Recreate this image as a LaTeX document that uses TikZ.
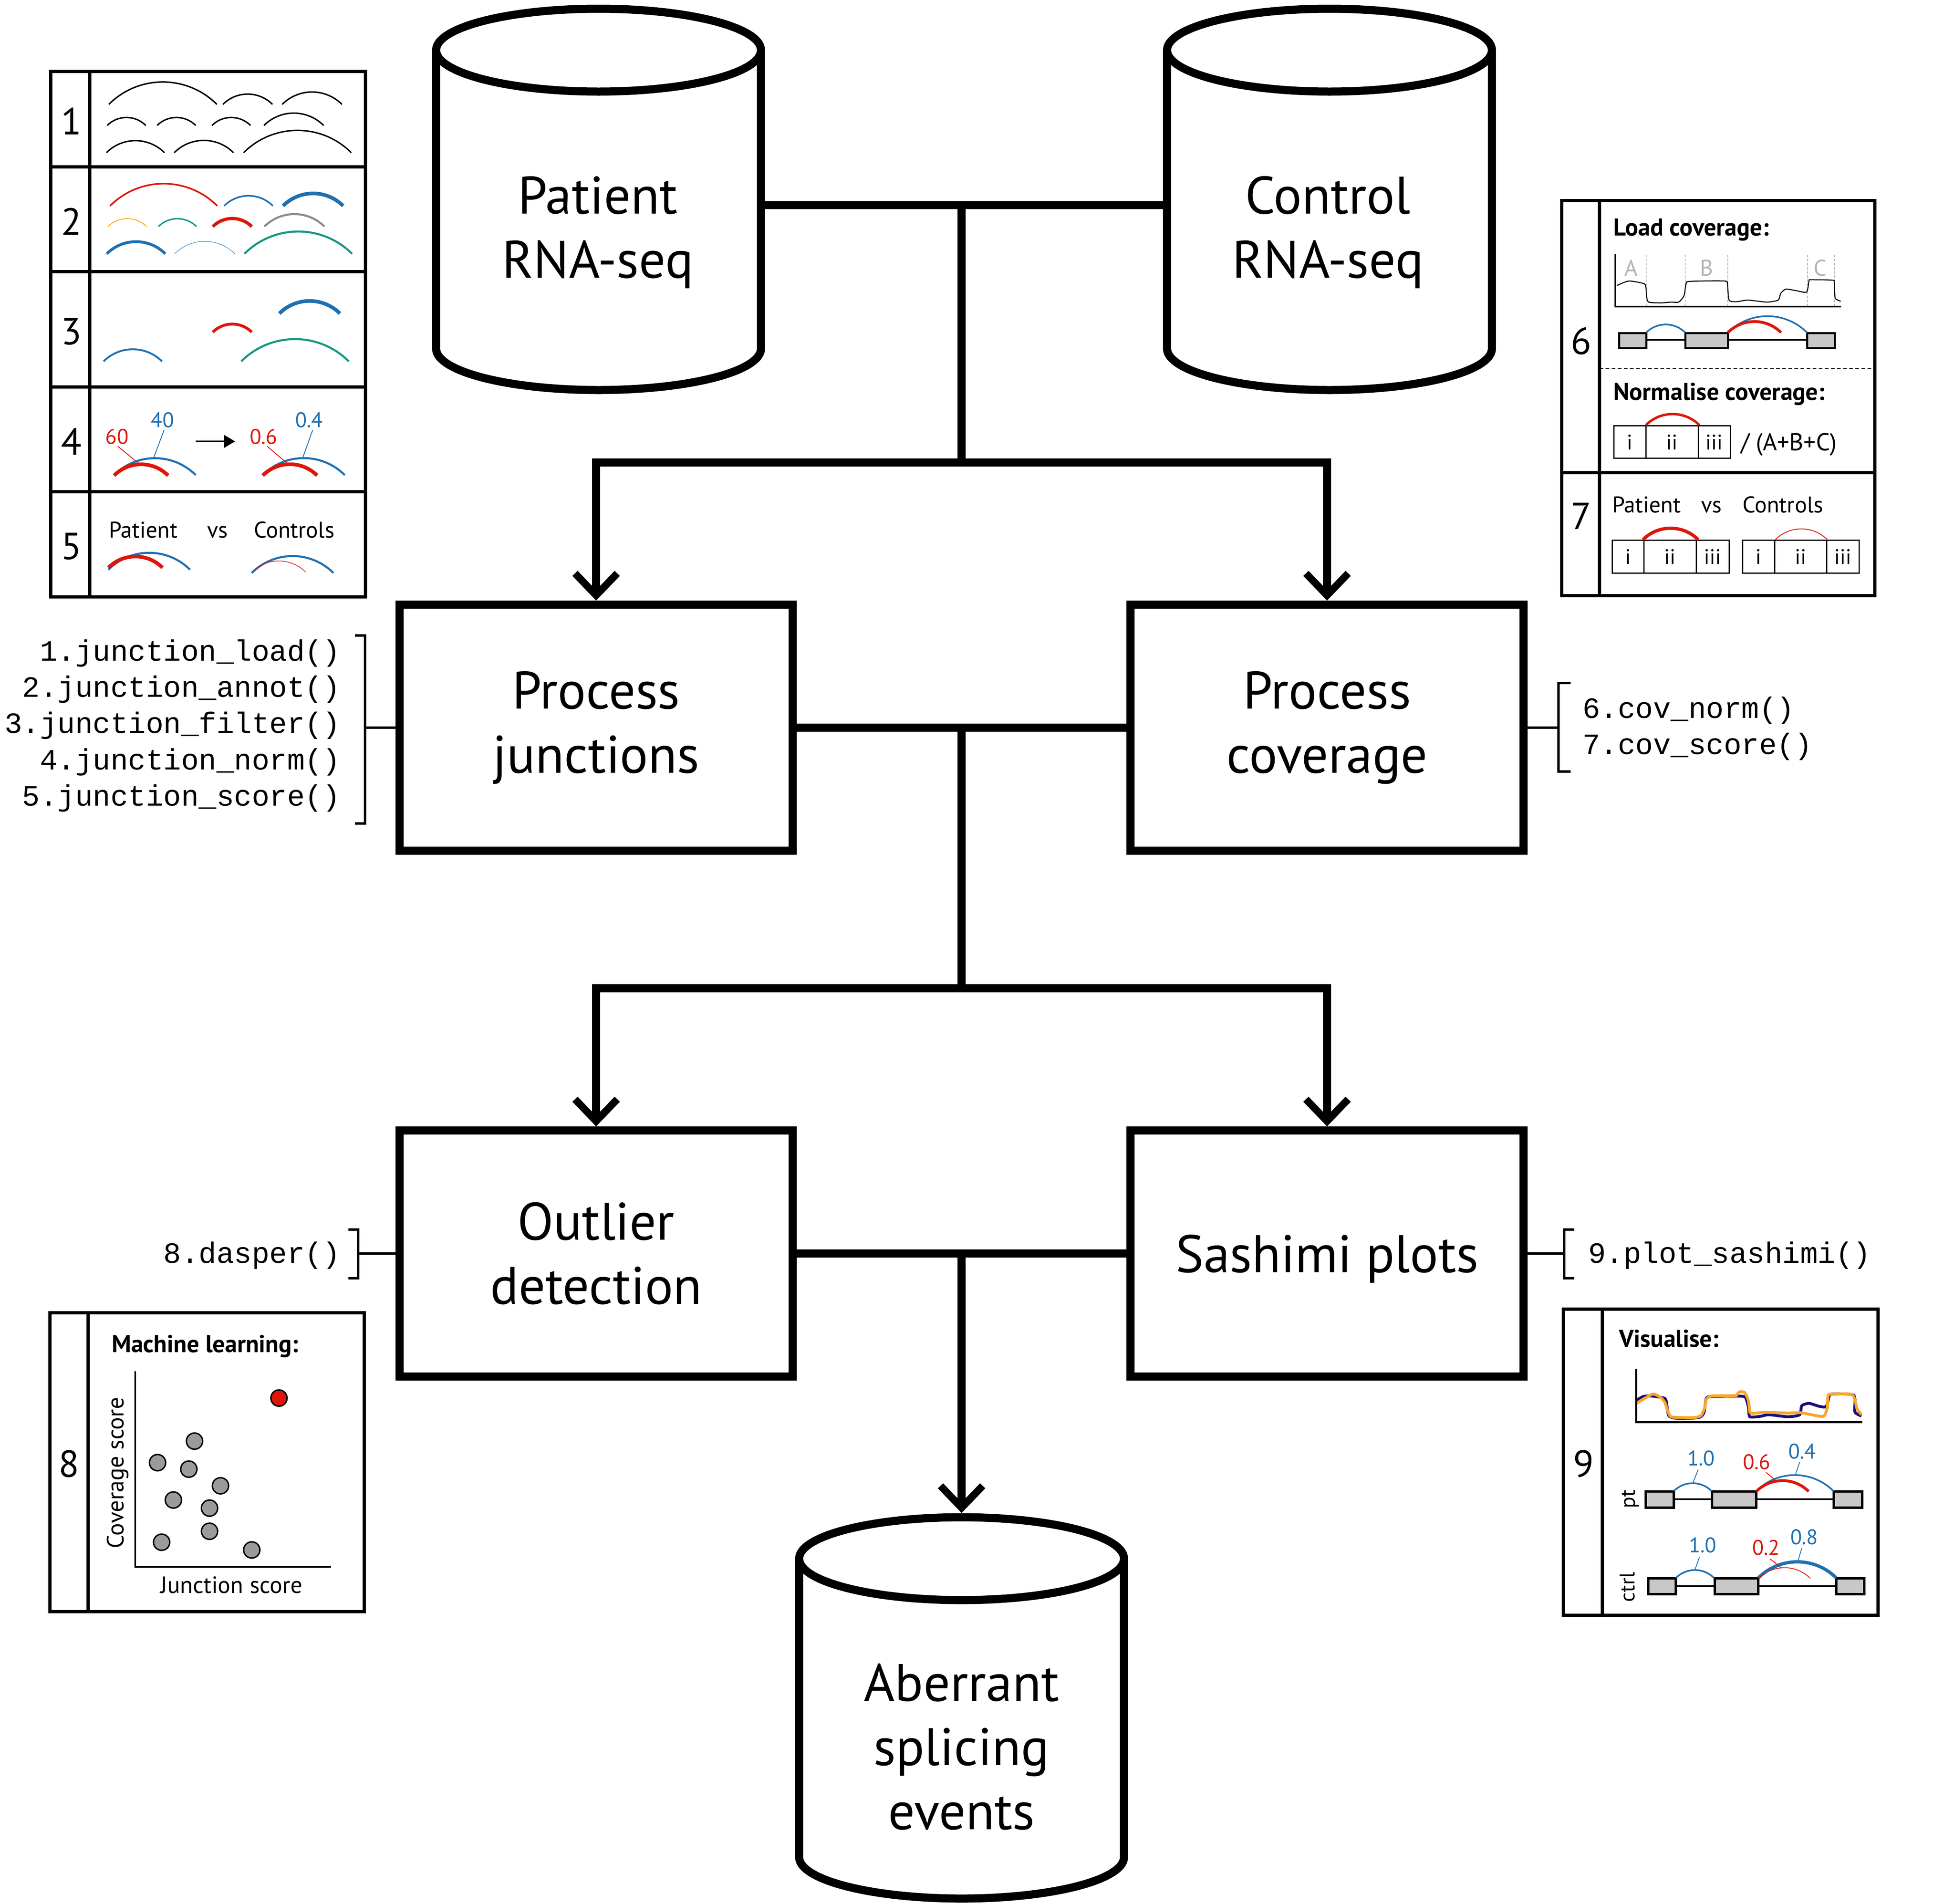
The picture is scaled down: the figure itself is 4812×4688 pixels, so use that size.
\documentclass[tikz,border=0pt]{standalone}
\usepackage{fontspec}
\setmainfont{PT Sans}
\setmonofont{Liberation Mono}
\usetikzlibrary{arrows.meta}
\definecolor{jred}{RGB}{222,22,10}
\definecolor{jblue}{RGB}{30,112,178}
\definecolor{jteal}{RGB}{22,152,130}
\definecolor{jorange}{RGB}{245,168,30}
\definecolor{jgrey}{RGB}{140,140,140}
\definecolor{exgrey}{RGB}{200,200,200}
\definecolor{dotgrey}{RGB}{155,155,155}
\definecolor{ltgrey}{RGB}{180,180,180}
\definecolor{navy}{RGB}{28,12,128}
\definecolor{covorange}{RGB}{248,166,40}
\newcommand\fbig{\fontsize{130}{158}\selectfont}
\newcommand\fnum{\fontsize{93}{100}\selectfont}
\newcommand\fmid{\fontsize{56}{60}\selectfont}
\newcommand\fbold{\fontsize{60}{64}\selectfont\bfseries}
\newcommand\faxis{\fontsize{58}{62}\selectfont}
\newcommand\fsmall{\fontsize{52}{56}\selectfont}
\newcommand\fcode{\ttfamily\fontsize{72.5}{89}\selectfont}
\newcommand\jarc[4]{\draw[#4] (#1,#3) arc[start angle=225,end angle=315,radius={(#2-#1)/1.41421}];}
\newcommand\cylout[1]{%
  \draw[mainline] (#1.north west) -- (#1.south west) arc[start angle=180,end angle=0,x radius=400,y radius=102] -- (#1.north east);
  \draw[mainline] (#1.north) ellipse[x radius=400,y radius=102];}
\tikzset{
  mainline/.style={line width=20pt, line join=miter},
  arr/.style={mainline, -{Straight Barb[length=54pt,width=104pt,line width=18pt]}},
  box/.style={draw, line width=20pt, minimum width=968pt, minimum height=606pt, align=center, font=\fbig, inner sep=0pt},
  cylbody/.style={minimum width=800pt, minimum height=735pt, inner sep=0pt, outer sep=0pt},
  bigtxt/.style={font=\fbig, align=center, inner sep=0pt},
  pline/.style={line width=8pt},
  brk/.style={line width=6pt, line join=miter},
  num/.style={font=\fnum, inner sep=0pt},
  txt/.style={font=\fmid, inner sep=0pt},
  btxt/.style={font=\fbold, inner sep=0pt},
  axtxt/.style={font=\faxis, inner sep=0pt},
  lbl/.style={font=\fsmall, inner sep=0pt},
  code/.style={font=\fcode, inner sep=0pt},
  blk/.style={line width=3.5pt},
  exon/.style={fill=exgrey, draw=black, line width=5pt},
  dot/.style={draw=black, line width=3.5pt, fill=dotgrey},
  lead/.style={line width=2pt},
}
\begin{document}
\begin{tikzpicture}[x=1pt,y=-1pt]
\useasboundingbox (0,0) rectangle (4812,4688);
% ---------------- main flow ----------------
\node[cylbody] (pat) at (1474,491) {};
\cylout{pat}
\node[bigtxt] (patt) at (1472,572) {Patient\\RNA-seq};
\node[cylbody] (ctl) at (3274,491) {};
\cylout{ctl}
\node[bigtxt] (ctlt) at (3270,572) {Control\\RNA-seq};
\node[box] (pj) at (1468,1792) {Process\\junctions};
\node[box] (pc) at (3268,1792) {Process\\coverage};
\node[box] (od) at (1468,3087) {Outlier\\detection};
\node[box, text depth=0pt] (sp) at (3268,3087) {Sashimi plots};
\node[cylbody] (abr) at (2368,4206) {};
\cylout{abr}
\node[bigtxt] (abrt) at (2368,4302) {Aberrant\\splicing\\events};
\coordinate (j0) at (2368,505);
\coordinate (j1) at (2368,1139);
\coordinate (j2) at (2368,1792);
\coordinate (j3) at (2368,2434);
\coordinate (j4) at (2368,3087);
\coordinate (abtop) at (2368,3726);
\draw[mainline] (pat.east |- j0) -- (ctl.west |- j0);
\draw[mainline] (j0) -- (j1);
\draw[arr] (j1) -| (pj.north);
\draw[arr] (j1) -| (pc.north);
\draw[mainline] (pj.east) -- (pc.west);
\draw[mainline] (j2) -- (j3);
\draw[arr] (j3) -| (od.north);
\draw[arr] (j3) -| (sp.north);
\draw[mainline] (od.east) -- (sp.west);
\draw[arr] (j4) -- (abtop);
% ---------------- code annotations ----------------
\node[code, anchor=base east] (c1) at (838,1627) {1.junction\_load()};
\node[code, anchor=base east] (c2) at (838,1716) {2.junction\_annot()};
\node[code, anchor=base east] (c3) at (838,1805) {3.junction\_filter()};
\node[code, anchor=base east] (c4) at (838,1895) {4.junction\_norm()};
\node[code, anchor=base east] (c5) at (838,1984) {5.junction\_score()};
\coordinate (bL) at (899,1792);
\draw[brk] (874,1565) -- (899,1565) -- (899,2028) -- (874,2028);
\draw[brk] (bL) -- (pj.west);
\node[code, anchor=base west] (c6) at (3897,1768) {6.cov\_norm()};
\node[code, anchor=base west] (c7) at (3897,1857) {7.cov\_score()};
\coordinate (bR) at (3838,1792);
\draw[brk] (3868,1682) -- (3838,1682) -- (3838,1900) -- (3868,1900);
\draw[brk] (pc.east) -- (bR);
\node[code, anchor=base east] (c8) at (838,3110) {8.dasper()};
\coordinate (b8) at (882,3087);
\draw[brk] (858,3028) -- (882,3028) -- (882,3148) -- (858,3148);
\draw[brk] (b8) -- (od.west);
\node[code, anchor=base west] (c9) at (3911,3110) {9.plot\_sashimi()};
\coordinate (b9) at (3852,3087);
\draw[brk] (3877,3028) -- (3852,3028) -- (3852,3148) -- (3877,3148);
\draw[brk] (sp.east) -- (b9);
% ---------------- panel 1-5 ----------------
\draw[pline] (125,176) rectangle (900,1470);
\draw[pline] (221,176) -- (221,1470);
\foreach \yy in {411,669,953,1211} \draw[pline] (125,\yy) -- (900,\yy);
\node[num] (n1) at (176,298) {1};
\node[num] (n2) at (176,545) {2};
\node[num] (n3) at (176,816) {3};
\node[num] (n4) at (176,1087) {4};
\node[num] (n5) at (176,1345) {5};
% row 1
\jarc{268}{534}{257}{blk}
\jarc{549}{671}{257}{blk}
\jarc{695}{842}{257}{blk}
\jarc{264}{359}{309}{blk}
\jarc{387}{482}{309}{blk}
\jarc{522}{617}{309}{blk}
\jarc{650}{797}{309}{blk}
\jarc{262}{405}{376}{blk}
\jarc{429}{575}{376}{blk}
\jarc{600}{865}{376}{blk}
% row 2
\jarc{271}{535}{507}{jred, line width=4pt}
\jarc{552}{672}{507}{jblue, line width=4pt}
\jarc{697}{845}{507}{jblue, line width=9pt}
\jarc{266}{361}{558}{jorange, line width=2pt}
\jarc{390}{484}{558}{jteal, line width=3.5pt}
\jarc{524}{620}{558}{jred, line width=8pt}
\jarc{651}{799}{558}{jgrey, line width=5pt}
\jarc{263}{407}{625}{jblue, line width=7pt}
\jarc{430}{578}{625}{jblue, line width=1pt}
\jarc{602}{867}{625}{jteal, line width=5pt}
% row 3
\jarc{688}{837}{772}{jblue, line width=9pt}
\jarc{524}{620}{818}{jred, line width=7pt}
\jarc{255}{399}{890}{jblue, line width=4.5pt}
\jarc{594}{859}{890}{jteal, line width=5pt}
% row 4
\jarc{281}{482}{1170}{jblue, line width=5pt}
\jarc{281}{414}{1171}{jred, line width=9pt}
\jarc{647}{849}{1170}{jblue, line width=5pt}
\jarc{647}{781}{1171}{jred, line width=9pt}
\node[lbl, text=jred] (t60) at (288,1075) {60};
\node[lbl, text=jblue] (t40) at (400,1034) {40};
\node[lbl, text=jred] (t06) at (649,1075) {0.6};
\node[lbl, text=jblue] (t04) at (761,1034) {0.4};
\draw[lead, jred] (290,1099) -- (340,1140);
\draw[lead, jblue] (404,1059) -- (379,1126);
\draw[lead, jred] (658,1099) -- (706,1140);
\draw[lead, jblue] (770,1059) -- (746,1126);
\draw[line width=4pt, -{Triangle[length=28pt,width=32pt]}] (482,1087) -- (579,1087);
% row 5
\node[txt, anchor=base west] (p5) at (268,1324) {Patient};
\node[txt, anchor=base] (v5) at (536,1324) {vs};
\node[txt, anchor=base west] (k5) at (625,1324) {Controls};
\jarc{267}{468}{1403}{jblue, line width=5pt}
\jarc{267}{400}{1398}{jred, line width=9pt}
\jarc{620}{821}{1411}{jblue, line width=5pt}
\jarc{620}{753}{1409}{jred, line width=1.5pt}
% ---------------- panel 6-7 ----------------
\draw[pline] (3846,494) rectangle (4617,1467);
\draw[pline] (3939,494) -- (3939,1467);
\draw[pline] (3846,1164) -- (4617,1164);
\draw[line width=2.5pt, dash pattern=on 9pt off 6pt] (3939,908) -- (4617,908);
\node[num] (n6) at (3894,840) {6};
\node[num] (n7) at (3894,1271) {7};
\node[btxt, anchor=base west] (lc) at (3973,580) {Load coverage:};
\foreach \xx in {4054,4150,4255,4451,4518} \draw[ltgrey, line width=1.5pt, dash pattern=on 6pt off 4pt] (\xx,628) -- (\xx,755);
\node[txt, text=ltgrey] (la) at (4017,660) {A};
\node[txt, text=ltgrey] (lb) at (4203,660) {B};
\node[txt, text=ltgrey] (lcc) at (4482,660) {C};
\draw[line width=2.5pt] plot[smooth, tension=0.4] coordinates {(3982,703) (4011,692) (4047,698) (4053,705) (4055,730) (4060,744) (4089,746) (4115,744) (4134,744) (4147,728) (4152,700) (4160,693) (4246,692) (4254,700) (4258,739) (4277,743) (4304,739) (4351,744) (4379,739) (4385,723) (4398,712) (4424,716) (4449,719) (4455,691) (4460,689) (4513,690) (4517,696) (4519,733) (4526,739) (4533,742)};
\draw[line width=4.5pt] (3978,626) -- (3978,755) -- (4534,755);
\draw[line width=4pt] (4054,837) -- (4450,837);
\draw[exon] (3987,820) rectangle (4054,857);
\draw[exon] (4150,820) rectangle (4255,857);
\draw[exon] (4450,820) rectangle (4518,857);
\jarc{4054}{4150}{819}{jblue, line width=4pt}
\jarc{4255}{4450}{819}{jblue, line width=4pt}
\jarc{4255}{4386}{819}{jred, line width=7pt}
\node[btxt, anchor=base west] (nc) at (3973,985) {Normalise coverage:};
\draw[line width=3pt] (3974,1048) rectangle (4261,1128) (4053,1048) -- (4053,1128) (4182,1048) -- (4182,1128);
\node[lbl, anchor=base] (r6a) at (4013,1107) {i};
\node[lbl, anchor=base] (r6b) at (4117,1107) {ii};
\node[lbl, anchor=base] (r6c) at (4221,1107) {iii};
\jarc{4053}{4185}{1047}{jred, line width=6pt}
\node[axtxt, font=\fontsize{60}{64}\selectfont, anchor=base west] (abc) at (4287,1109) {/ (A+B+C)};
\node[txt, anchor=base west] (p7) at (3970,1262) {Patient};
\node[txt, anchor=base] (v7) at (4215,1262) {vs};
\node[txt, anchor=base west] (k7) at (4291,1262) {Controls};
\draw[line width=3pt] (3970,1330) rectangle (4258,1411) (4048,1330) -- (4048,1411) (4177,1330) -- (4177,1411);
\draw[line width=3pt] (4291,1330) rectangle (4578,1411) (4370,1330) -- (4370,1411) (4498,1330) -- (4498,1411);
\node[lbl, anchor=base] (r7a) at (4009,1389) {i};
\node[lbl, anchor=base] (r7b) at (4112,1389) {ii};
\node[lbl, anchor=base] (r7c) at (4217,1389) {iii};
\node[lbl, anchor=base] (r7d) at (4330,1389) {i};
\node[lbl, anchor=base] (r7e) at (4434,1389) {ii};
\node[lbl, anchor=base] (r7f) at (4538,1389) {iii};
\jarc{4046}{4182}{1329}{jred, line width=8pt}
\jarc{4372}{4500}{1329}{jred, line width=2pt}
% ---------------- panel 8 ----------------
\draw[pline] (123,3233) rectangle (897,3969);
\draw[pline] (217,3233) -- (217,3969);
\node[num] (n8) at (170,3605) {8};
\node[btxt, anchor=base west] (ml) at (275,3330) {Machine learning:};
\draw[line width=4.5pt] (333,3377) -- (333,3859) -- (815,3859);
\node[axtxt, rotate=90] (cs) at (290,3627) {Coverage score};
\node[axtxt, anchor=base] (js) at (570,3923) {Junction score};
\foreach \px/\py in {479/3549, 388/3602, 465/3618, 543/3659, 427/3694, 516/3714, 516/3771, 398/3798, 620/3817}
  \draw[dot] (\px,\py) circle[radius=20];
\draw[dot, fill=jred] (687,3443) circle[radius=20];
% ---------------- panel 9 ----------------
\draw[pline] (3850,3224) rectangle (4625,3978);
\draw[pline] (3946,3224) -- (3946,3978);
\node[num] (n9) at (3900,3605) {9};
\node[btxt, anchor=base west] (vis) at (3987,3317) {Visualise:};
\draw[navy, line width=7pt] plot[smooth, tension=0.4] coordinates {(4029,3449) (4047,3439) (4068,3438) (4100,3444) (4105,3462) (4110,3487) (4131,3493) (4183,3491) (4196,3479) (4202,3444) (4215,3439) (4278,3438) (4298,3441) (4306,3467) (4309,3489) (4335,3488) (4356,3484) (4403,3489) (4432,3484) (4437,3462) (4455,3456) (4479,3463) (4497,3464) (4505,3437) (4513,3433) (4565,3436) (4568,3477) (4584,3487)};
\draw[covorange, line width=7pt] plot[smooth, tension=0.4] coordinates {(4030,3456) (4053,3442) (4071,3433) (4089,3441) (4100,3454) (4108,3477) (4115,3489) (4142,3491) (4173,3491) (4189,3486) (4198,3467) (4202,3447) (4215,3438) (4272,3437) (4278,3434) (4283,3428) (4296,3429) (4305,3447) (4308,3467) (4312,3480) (4351,3478) (4403,3480) (4434,3479) (4476,3487) (4492,3487) (4500,3467) (4502,3436) (4518,3433) (4560,3434) (4569,3452) (4573,3469) (4584,3484)};
\draw[line width=5pt] (4029,3371) -- (4029,3502) -- (4586,3502);
% pt
\node[lbl, rotate=90] (ptl) at (4015,3692) {pt};
\draw[line width=4pt] (4122,3692) -- (4516,3692);
\draw[exon, line width=6pt] (4053,3673) rectangle (4122,3713);
\draw[exon, line width=6pt] (4216,3673) rectangle (4325,3713);
\draw[exon, line width=6pt] (4516,3673) rectangle (4586,3713);
\jarc{4122}{4215}{3672}{jblue, line width=4pt}
\jarc{4325}{4515}{3672}{jblue, line width=4pt}
\jarc{4325}{4454}{3673}{jred, line width=7pt}
\node[lbl, text=jblue, anchor=base] (a10) at (4189,3609) {1.0};
\node[lbl, text=jred, anchor=base] (a06) at (4326,3618) {0.6};
\node[lbl, text=jblue, anchor=base] (a04) at (4438,3592) {0.4};
\draw[lead, jblue] (4182,3619) -- (4169,3652);
\draw[lead, jred] (4349,3626) -- (4373,3646);
\draw[lead, jblue] (4432,3600) -- (4421,3633);
% ctrl
\node[lbl, rotate=90] (ctrl) at (4008,3908) {ctrl};
\draw[line width=4pt] (4127,3906) -- (4522,3906);
\draw[exon, line width=6pt] (4059,3887) rectangle (4127,3926);
\draw[exon, line width=6pt] (4223,3887) rectangle (4330,3926);
\draw[exon, line width=6pt] (4522,3887) rectangle (4591,3926);
\jarc{4127}{4221}{3886}{jblue, line width=4pt}
\jarc{4330}{4522}{3886}{jblue, line width=8pt}
\jarc{4331}{4458}{3887}{jred, line width=2pt}
\node[lbl, text=jblue, anchor=base] (b10) at (4193,3823) {1.0};
\node[lbl, text=jred, anchor=base] (b02) at (4349,3829) {0.2};
\node[lbl, text=jblue, anchor=base] (b08) at (4443,3803) {0.8};
\draw[lead, jblue] (4185,3835) -- (4174,3866);
\draw[lead, jred] (4359,3839) -- (4388,3862);
\draw[lead, jblue] (4437,3813) -- (4427,3846);
\end{tikzpicture}
\end{document}
